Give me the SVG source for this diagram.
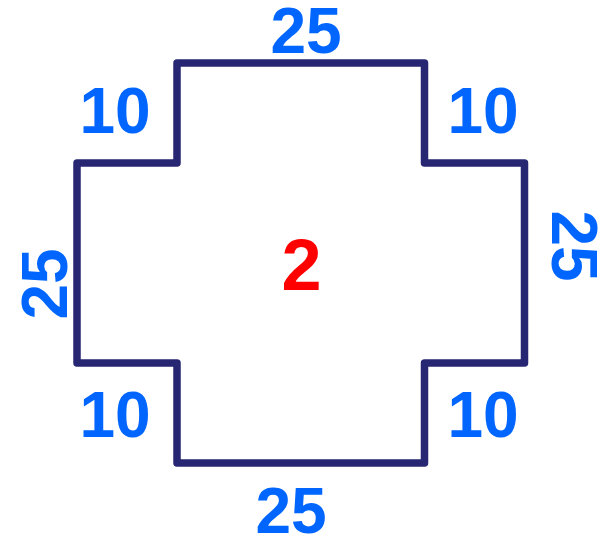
<svg xmlns="http://www.w3.org/2000/svg" width="605" height="537" viewBox="0 0 605 537">
<style>
.lbl{font-family:"Liberation Sans",Arial,sans-serif;font-weight:bold;font-size:64px;fill:#0066ff;text-anchor:middle}
.num{font-family:"Liberation Sans",Arial,sans-serif;font-weight:bold;font-size:72px;fill:#ff0000;text-anchor:middle}
.shape{fill:none;stroke:#262673;stroke-width:7.5;stroke-linejoin:round}
</style>
<rect width="605" height="537" fill="#ffffff"/>
<g id="cross">
<path class="shape" d="M177,63 H424.5 V163 H524.5 V363 H424.5 V463 H177 V363 H77 V163 H177 Z"/>
</g>
<g id="labels">
<text class="lbl" x="306" y="53">25</text>
<text class="lbl" x="115" y="133">10</text>
<text class="lbl" x="483" y="133">10</text>
<text class="lbl" x="115" y="437">10</text>
<text class="lbl" x="483" y="437">10</text>
<text class="lbl" x="291" y="533">25</text>
<text class="lbl" transform="translate(552,246) rotate(90)">25</text>
<text class="lbl" transform="translate(67,284) rotate(-90)">25</text>
<text class="num" x="301.5" y="290">2</text>
</g>
</svg>
